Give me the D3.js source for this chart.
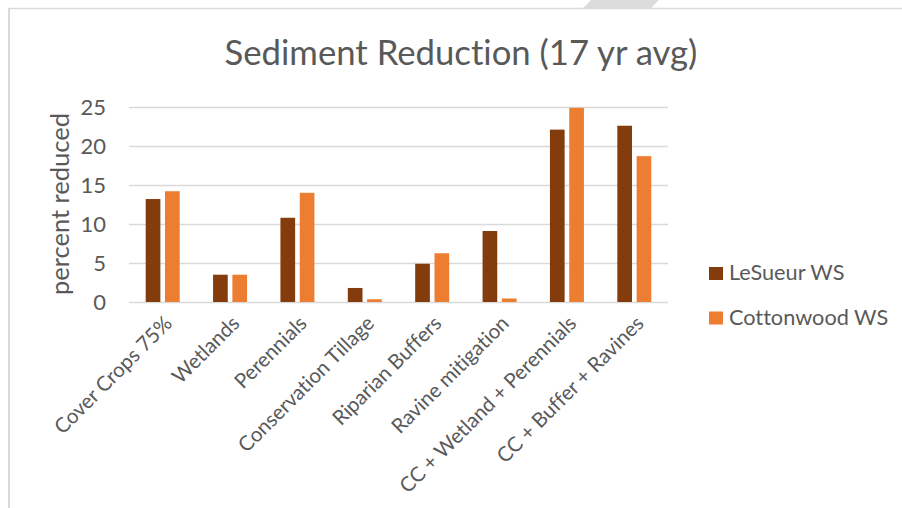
<!DOCTYPE html>
<html>
<head>
<meta charset="utf-8">
<script src="https://cdn.jsdelivr.net/npm/d3@7/dist/d3.min.js"></script>
<style>
  html, body { margin: 0; padding: 0; background: #ffffff; }
  svg { display: block; }
  text { font-family: Lato, "Open Sans", sans-serif; fill: #595959; font-variant-ligatures: none; }
</style>
</head>
<body>
<svg id="chart" width="902" height="508"></svg>
<script>
// Practices compared in the sediment model runs
const categories = [
  "Cover Crops 75%",
  "Wetlands",
  "Perennials",
  "Conservation Tillage",
  "Riparian Buffers",
  "Ravine mitigation",
  "CC + Wetland + Perennials",
  "CC + Buffer + Ravines"
];
const seriesNames = ["LeSueur WS", "Cottonwood WS"];
const lesueur    = [13.2, 3.5, 10.8, 1.8, 4.9, 9.1, 22.1, 22.6];
const cottonwood = [14.2, 3.5, 14.0, 0.35, 6.25, 0.45, 24.9, 18.7];
const yTicks = [0, 5, 10, 15, 20, 25];
const colors = ["#843C0C", "#ED7D31"];

const rows = categories.map((c, i) => ({ category: c, values: [lesueur[i], cottonwood[i]] }));

const svg = d3.select("#chart");

// Chart frame and the slide shape peeking above it
svg.append("polygon")
  .attr("points", "591,0 659,0 651,8 583,8")
  .attr("fill", "#dcdcdc");
svg.append("line").attr("x1", 8).attr("x2", 902).attr("y1", 8.5).attr("y2", 8.5)
  .attr("stroke", "#d9d9d9").attr("stroke-width", 1.5);
svg.append("line").attr("x1", 9).attr("x2", 9).attr("y1", 8).attr("y2", 508)
  .attr("stroke", "#d9d9d9").attr("stroke-width", 2);

const plot = { left: 129, right: 668, top: 107, bottom: 302 };

const x0 = d3.scaleBand().domain(categories).range([plot.left, plot.right]).padding(0);
const pairHalf = 17;
const x1 = d3.scaleBand().domain(d3.range(seriesNames.length))
  .range([x0.bandwidth() / 2 - pairHalf, x0.bandwidth() / 2 + pairHalf])
  .paddingInner(0.24).paddingOuter(0);
const y = d3.scaleLinear().domain([0, 25]).range([plot.bottom, plot.top]);

// Horizontal gridlines
const yAxis = d3.axisLeft(y).tickValues(yTicks).tickSize(-(plot.right - plot.left)).tickPadding(23);
const gy = svg.append("g").attr("transform", `translate(${plot.left},0)`).call(yAxis);
gy.select(".domain").remove();
gy.selectAll(".tick line").attr("stroke", "#d9d9d9").attr("stroke-width", 1.5);
gy.selectAll(".tick text")
  .attr("font-size", 22).attr("fill", "#595959")
  .style("font-family", "Lato, 'Open Sans', sans-serif");

// Bars
const groups = svg.append("g").selectAll("g").data(rows).join("g")
  .attr("transform", d => `translate(${x0(d.category)},0)`);
groups.selectAll("rect").data(d => d.values.map((v, k) => ({ v, k }))).join("rect")
  .attr("x", d => x1(d.k))
  .attr("width", x1.bandwidth())
  .attr("y", d => y(d.v))
  .attr("height", d => y(0) - y(d.v))
  .attr("fill", d => colors[d.k]);

// Category labels, slanted
const xAxis = d3.axisBottom(x0).tickSize(0).tickPadding(0);
const gx = svg.append("g").attr("transform", `translate(0,${plot.bottom})`).call(xAxis);
gx.select(".domain").remove();
gx.selectAll(".tick text")
  .attr("font-size", 20.5).attr("fill", "#595959")
  .style("font-family", "Lato, 'Open Sans', sans-serif")
  .attr("text-anchor", "end")
  .attr("dy", null).attr("y", 0)
  .attr("dominant-baseline", "central")
  .attr("transform", "translate(5,17) rotate(-45)");

// Title
svg.append("text")
  .attr("x", 461).attr("y", 65)
  .attr("text-anchor", "middle")
  .attr("font-size", 34.7)
  .text("Sediment Reduction (17 yr avg)");

// Y axis title
svg.append("text")
  .attr("transform", "translate(69,204) rotate(-90)")
  .attr("text-anchor", "middle")
  .attr("font-size", 25.5)
  .text("percent reduced");

// Legend
const legend = svg.append("g").selectAll("g").data(seriesNames).join("g")
  .attr("transform", (d, i) => `translate(709,${267 + i * 44.5})`);
legend.append("rect").attr("width", 14).attr("height", 13).attr("fill", (d, i) => colors[i]);
legend.append("text").attr("x", 20).attr("y", 13).attr("font-size", 21.7).text(d => d);
</script>
</body>
</html>
